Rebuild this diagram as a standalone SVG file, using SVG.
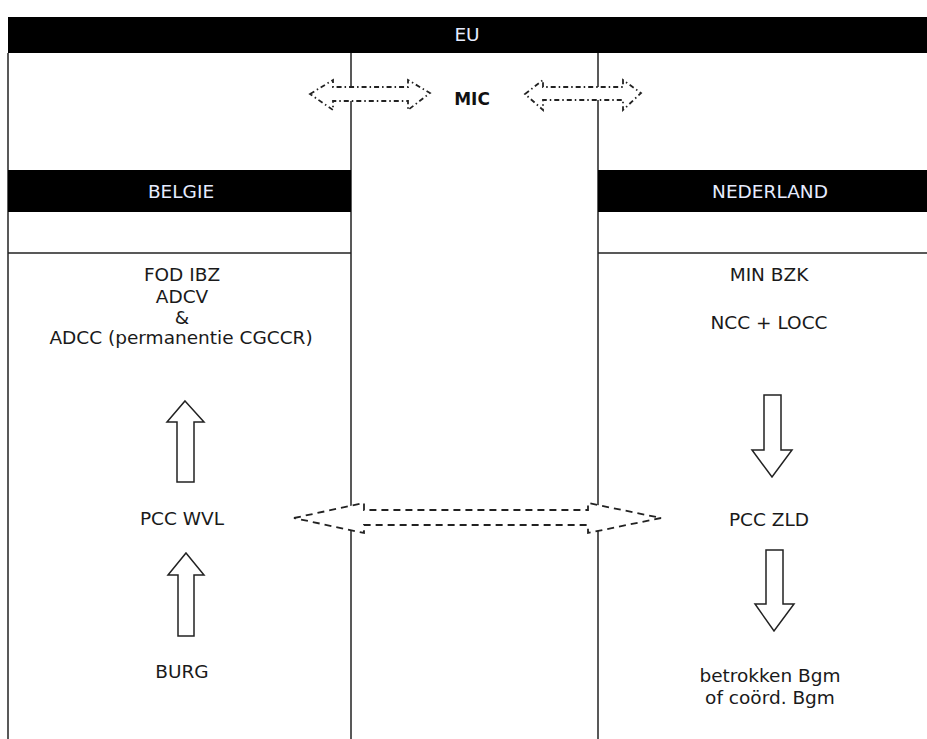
<svg xmlns="http://www.w3.org/2000/svg" width="927" height="739" viewBox="0 0 927 739">
<style>
.t{font-family:"DejaVu Sans","Liberation Sans",sans-serif;font-size:18.5px;fill:#1a1a1a;text-anchor:middle}
.h{font-family:"DejaVu Sans","Liberation Sans",sans-serif;font-size:18.5px;fill:#e6ecff;text-anchor:middle}
.b{font-family:"DejaVu Sans","Liberation Sans",sans-serif;font-size:17px;font-weight:bold;fill:#111;text-anchor:middle}
.ln{stroke:#222;stroke-width:1.5;fill:none}
.bar{fill:#000}
.blk{fill:#fff;stroke:#222;stroke-width:1.5}
.dd{fill:#fff;stroke:#222;stroke-width:1.8;stroke-dasharray:5 3 1.5 3}
.ds{fill:#fff;stroke:#222;stroke-width:1.8;stroke-dasharray:7 5}
</style>
<rect width="927" height="739" fill="#fff"/>
<g id="frame">
<line class="ln" x1="8" y1="53" x2="8" y2="739"/>
<line class="ln" x1="351" y1="53" x2="351" y2="739"/>
<line class="ln" x1="598" y1="53" x2="598" y2="739"/>
<line class="ln" x1="8" y1="253" x2="351" y2="253"/>
<line class="ln" x1="598" y1="253" x2="927" y2="253"/>
</g>
<g id="eu"><rect class="bar" x="8" y="17" width="919" height="36"/><text class="h" x="467" y="41">EU</text></g>
<g id="belgie"><rect class="bar" x="8" y="170" width="343" height="42"/><text class="h" x="181" y="198">BELGIE</text></g>
<g id="nederland"><rect class="bar" x="598" y="170" width="329" height="42"/><text class="h" x="770" y="198">NEDERLAND</text></g>
<g id="connectors">
<polygon class="dd" points="310,94 333,80 333,87 408,87 408,80 430,93 408,110 408,101 333,101 333,110"/>
<polygon class="dd" points="525,94 543,80 543,87 623,87 623,80 641,93 623,110 623,100 543,100 543,110"/>
<polygon class="ds" points="294,518 364,503 364,510 588,510 588,503 661,518 588,533 588,525 364,525 364,533"/>
<polygon class="blk" points="185,401 204,422 194,422 194,482 177,482 177,422 167,422"/>
<polygon class="blk" points="186,553 204,575 194,575 194,636 178,636 178,575 168,575"/>
<polygon class="blk" points="764,395 781,395 781,450 792,450 772,477 752,450 764,450"/>
<polygon class="blk" points="766,550 783,550 783,604 794,604 774,631 755,604 766,604"/>
</g>
<g id="mic"><text class="b" x="472" y="105">MIC</text></g>
<g id="fod"><text class="t" x="182" y="281">FOD IBZ</text><text class="t" x="182" y="303">ADCV</text><text class="t" x="182" y="324">&amp;</text><text class="t" x="181" y="344">ADCC (permanentie CGCCR)</text></g>
<g id="pccwvl"><text class="t" x="182" y="525">PCC WVL</text></g>
<g id="burg"><text class="t" x="182" y="678">BURG</text></g>
<g id="minbzk"><text class="t" x="769" y="281">MIN BZK</text><text class="t" x="769" y="329">NCC + LOCC</text></g>
<g id="pcczld"><text class="t" x="769" y="526">PCC ZLD</text></g>
<g id="bgm"><text class="t" x="770" y="682">betrokken Bgm</text><text class="t" x="770" y="704">of coörd. Bgm</text></g>
</svg>
